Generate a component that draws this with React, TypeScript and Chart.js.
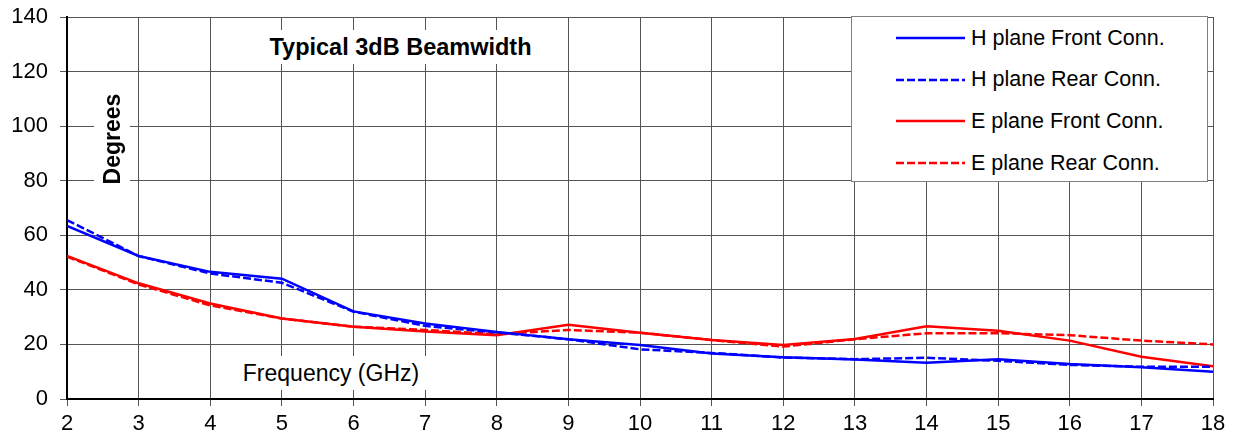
import { useEffect, useRef } from "react";
import { Chart, registerables } from "chart.js";

Chart.register(...registerables);

const frequencies = [2, 3, 4, 5, 6, 7, 8, 9, 10, 11, 12, 13, 14, 15, 16, 17, 18];
const hFront = [63.4, 52.4, 46.6, 44.1, 32.1, 27.7, 24.6, 21.9, 19.8, 16.7, 15.3, 14.5, 13.3, 14.6, 12.8, 11.6, 10.0];
const hRear = [65.6, 52.4, 46.0, 42.6, 32.0, 26.8, 24.4, 21.9, 18.2, 16.9, 15.2, 14.6, 15.1, 14.0, 12.5, 11.8, 11.8];
const eFront = [52.4, 42.4, 35.0, 29.5, 26.5, 24.7, 23.4, 27.2, 24.3, 21.6, 19.8, 22.0, 26.7, 25.0, 21.4, 15.5, 12.0];
const eRear = [52.2, 42.0, 34.3, 29.5, 26.5, 25.3, 23.8, 25.3, 24.3, 21.6, 19.2, 21.9, 24.1, 24.1, 23.4, 21.4, 20.0];

const seriesNames = ["H plane Front Conn.", "H plane Rear Conn.", "E plane Front Conn.", "E plane Rear Conn."];
const seriesColors = ["#0000ff", "#0000ff", "#ff0000", "#ff0000"];
const seriesDashed = [false, true, false, true];

const FONT = "'Liberation Sans', Arial, sans-serif";

export default function App() {
	const canvasRef = useRef<HTMLCanvasElement | null>(null);

	useEffect(() => {
		document.body.style.margin = "0";
		if (!canvasRef.current) {
			return;
		}

		const values = [hFront, hRear, eFront, eRear];
		const chart = new Chart(canvasRef.current, {
			type: "line",
			data: {
				datasets: values.map((vals, i) => ({
					label: seriesNames[i],
					data: vals.map((v, j) => ({ x: frequencies[j], y: v })),
					borderColor: seriesColors[i],
					borderWidth: 2.5,
					borderDash: seriesDashed[i] ? [8, 3] : [],
					pointRadius: 0,
					tension: 0,
					fill: false,
				})),
			},
			options: {
				responsive: true,
				maintainAspectRatio: false,
				animation: false,
				layout: { padding: { left: 0, right: 26, top: 17, bottom: 0 } },
				plugins: {
					legend: { display: false },
					tooltip: { enabled: false },
				},
				scales: {
					x: {
						type: "linear",
						min: 2,
						max: 18,
						ticks: {
							stepSize: 1,
							color: "#000",
							font: { family: FONT, size: 22 },
							padding: 5,
						},
						grid: { color: "#555", lineWidth: 1, tickLength: 7 },
						border: { color: "#000", width: 2 },
						afterFit: (scale: any) => {
							scale.height = 42;
							scale.paddingLeft = 0;
							scale.paddingRight = 0;
						},
					},
					y: {
						min: 0,
						max: 140,
						ticks: {
							stepSize: 20,
							color: "#000",
							font: { family: FONT, size: 22 },
							padding: 12,
						},
						grid: { color: "#555", lineWidth: 1, tickLength: 7 },
						border: { color: "#000", width: 2 },
						afterFit: (scale: any) => {
							scale.width = 67;
							scale.paddingTop = 0;
							scale.paddingBottom = 0;
						},
					},
				},
			},
		});

		return () => {
			chart.destroy();
		};
	}, []);

	return (
		<div style={{ position: "relative", width: 1239, height: 441, background: "#fff", fontFamily: FONT }}>
			<canvas ref={canvasRef} />

			<div
				style={{
					position: "absolute",
					left: 262,
					top: 30,
					width: 277,
					height: 34,
					background: "#fff",
					fontWeight: "bold",
					fontSize: 23.5,
					lineHeight: "34px",
					textAlign: "center",
					whiteSpace: "nowrap",
				}}
			>
				Typical 3dB Beamwidth
			</div>

			<div
				style={{
					position: "absolute",
					left: 112,
					top: 139,
					width: 104,
					height: 36,
					marginLeft: -52,
					marginTop: -18,
					transform: "rotate(-90deg)",
					background: "#fff",
					fontWeight: "bold",
					fontSize: 23,
					lineHeight: "36px",
					textAlign: "center",
					whiteSpace: "nowrap",
				}}
			>
				Degrees
			</div>

			<div
				style={{
					position: "absolute",
					left: 234,
					top: 356,
					width: 194,
					height: 34,
					background: "#fff",
					fontSize: 23,
					lineHeight: "34px",
					textAlign: "center",
					whiteSpace: "nowrap",
				}}
			>
				Frequency (GHz)
			</div>

			<div
				style={{
					position: "absolute",
					left: 851,
					top: 16,
					width: 355,
					height: 164,
					background: "#fff",
					border: "1px solid #808080",
				}}
			>
				{seriesNames.map((name, i) => (
					<div
						key={name}
						style={{
							position: "absolute",
							left: 44,
							top: 21 + i * 41.7 - 15,
							height: 30,
							display: "flex",
							alignItems: "center",
							fontSize: 21.5,
							whiteSpace: "nowrap",
						}}
					>
						<svg width={75} height={30} style={{ display: "block" }}>
							<line
								x1={0}
								y1={15}
								x2={69}
								y2={15}
								stroke={seriesColors[i]}
								strokeWidth={2.5}
								strokeDasharray={seriesDashed[i] ? "8 3" : undefined}
							/>
						</svg>
						<span>{name}</span>
					</div>
				))}
			</div>
		</div>
	);
}
